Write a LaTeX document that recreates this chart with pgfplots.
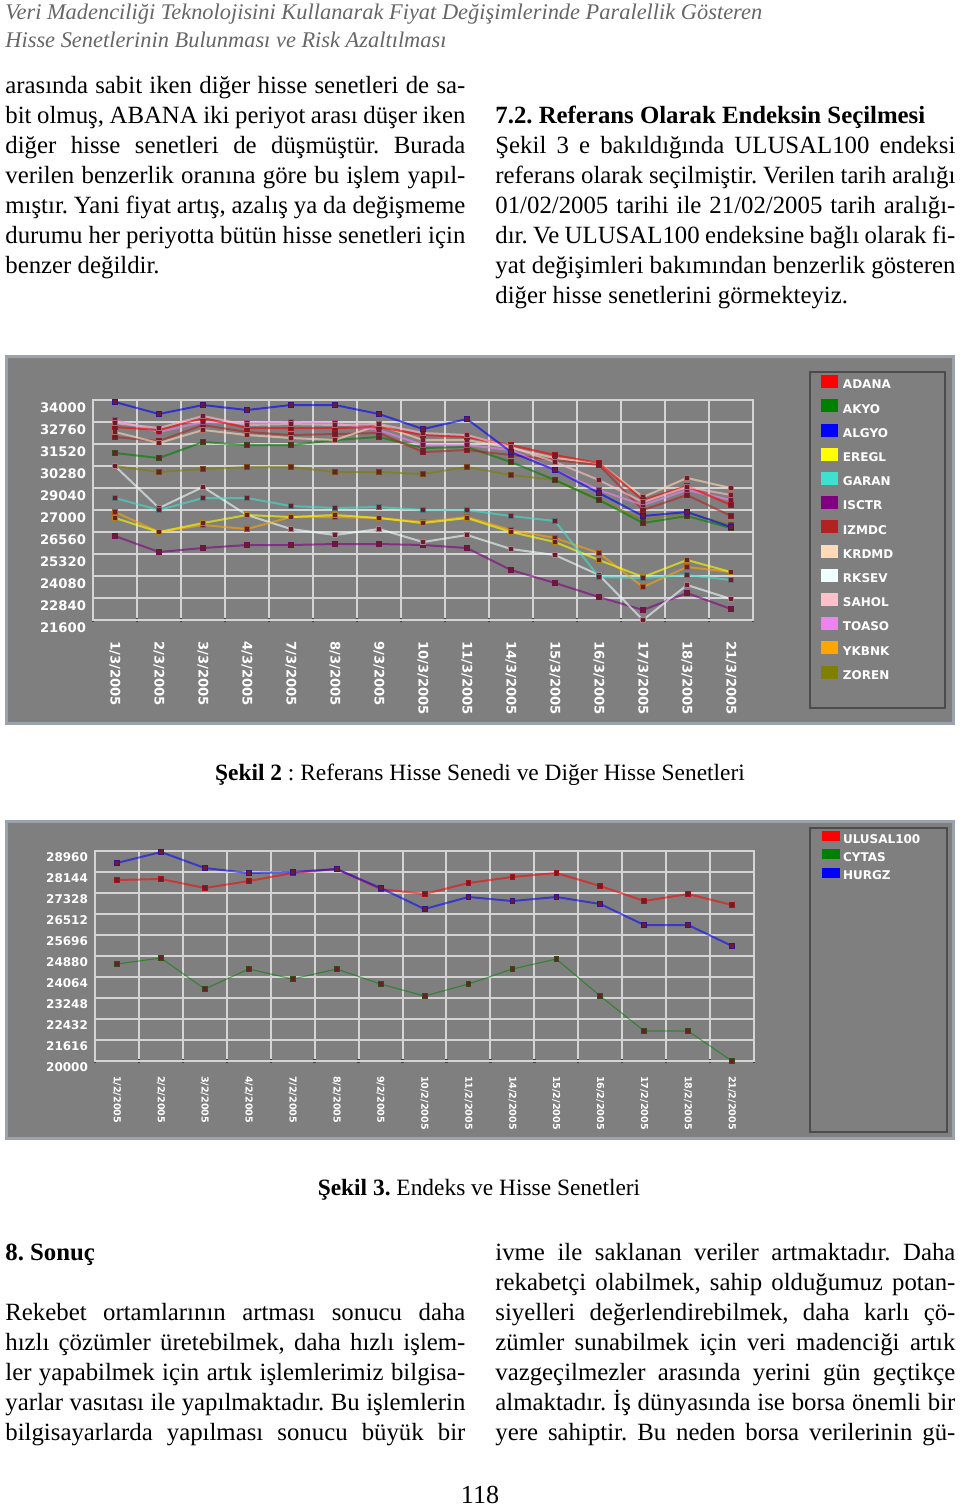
\documentclass[border=0pt]{standalone}
\usepackage{pgfplots}
\usepackage{pgfplotstable}
\pgfplotsset{compat=1.18}
\usepackage{fontspec}
\setmainfont{Liberation Serif}
\newfontfamily\chartfont{DejaVu Sans}
\newcommand{\cf}[1]{\chartfont\bfseries\fontsize{#1}{#1}\selectfont}
\newcommand{\bodyf}{\fontsize{12.4pt}{15pt}\selectfont}
\newcommand{\J}[1]{\makebox[230pt][s]{#1}}
\frenchspacing

\definecolor{panel}{HTML}{7F7F7F}
\definecolor{framec}{HTML}{9AA3AC}
\definecolor{gridc}{HTML}{D4D4D4}
\definecolor{mk}{HTML}{6A1E2C}
\definecolor{cADANA}{HTML}{FF0000}
\definecolor{cAKYO}{HTML}{008000}
\definecolor{cALGYO}{HTML}{0000FF}
\definecolor{cEREGL}{HTML}{FFFF00}
\definecolor{cGARAN}{HTML}{40E0D0}
\definecolor{cISCTR}{HTML}{800080}
\definecolor{cIZMDC}{HTML}{B22222}
\definecolor{cKRDMD}{HTML}{FFDAB9}
\definecolor{cRKSEV}{HTML}{F0FFFF}
\definecolor{cSAHOL}{HTML}{FFC0CB}
\definecolor{cTOASO}{HTML}{EE82EE}
\definecolor{cYKBNK}{HTML}{FFA500}
\definecolor{cZOREN}{HTML}{808000}

\pgfplotstableread{
x ADANA AKYO ALGYO EREGL GARAN ISCTR IZMDC KRDMD RKSEV SAHOL TOASO YKBNK ZOREN
1 32477 31012 33886 27349 28476 26334 31914 32196 30279 32703 32872 27687 30279
2 32308 30730 33210 26560 27800 25432 31688 31576 27912 32421 32196 26560 29941
3 32985 31632 33717 27067 28476 25658 32590 32308 29096 33097 32759 26954 30110
4 32421 31463 33436 27518 28476 25827 32196 32027 27518 32590 32703 26729 30223
5 32421 31463 33717 27405 28025 25827 32027 31858 26729 32647 32759 27405 30223
6 32421 31745 33717 27518 27912 25883 32083 31745 26391 32590 32703 27405 29941
7 32477 31914 33210 27349 27969 25883 32139 32590 26729 32647 32308 27349 29941
8 32027 31294 32365 27067 27800 25827 31068 31745 25996 32139 31463 27124 29829
9 31914 31350 32928 27349 27800 25658 31181 31745 26391 32027 31463 27405 30223
10 31463 30505 31068 26560 27461 24418 30899 31294 25602 31350 31181 26672 29772
11 30899 29490 30054 25996 27180 23685 30618 30730 25263 30505 30054 26222 29490
12 30449 28363 28758 24982 24023 22896 30336 30449 24136 29490 28927 25376 28363
13 28363 27067 27461 24023 23967 22164 27800 28532 21600 28250 28081 23460 27236
14 29152 27461 27687 24982 24136 23122 28645 29603 23573 29096 28927 24587 27631
15 28081 26785 26841 24305 23854 22220 27461 29040 22784 28645 28363 24305 26954
}\tA

\pgfplotstableread{
x ULUSAL CYTAS HURGZ
1 27833 24569 28494
2 27872 24802 28921
3 27522 23598 28299
4 27794 24375 28105
5 28105 23986 28144
6 28261 24375 28261
7 27483 23792 27522
8 27289 23326 26706
9 27717 23792 27173
10 27950 24375 27017
11 28105 24763 27173
12 27600 23326 26901
13 27017 21966 26085
14 27289 21966 26085
15 26862 20800 25269
}\tB

\pgfplotsset{
  ser/.style={draw=#1, draw opacity=0.6, line width=1pt, mark=square*, mark size=1.3pt,
    mark options={solid, fill=mk, draw=#1!45!mk, draw opacity=1, line width=0.4pt}},
  serb/.style 2 args={draw=#1, draw opacity=0.55, line width=#2, mark=square*, mark size=1.2pt,
    mark options={solid, fill=mk, draw=#1!45!mk, draw opacity=1, line width=0.4pt}},
  chartax/.style={
    scale only axis, xmin=0.5, xmax=15.5,
    scaled y ticks=false, scaled x ticks=false,
    xtick={1,...,15}, minor xtick={0.5,1.5,...,15.5},
    xmajorgrids=false, xminorgrids=true, ymajorgrids=true,
    grid style={draw=gridc, line width=1pt},
    minor grid style={draw=gridc, line width=1pt},
    axis line style={draw=gridc, line width=1pt},
    major tick length=0pt, minor tick length=2pt, tick align=center,
    minor tick style={draw=black!75, line width=1.2pt},
    xtick pos=bottom, ytick pos=left,
    legend cell align=left,
  },
}

\begin{document}
\begin{tikzpicture}
\begin{scope}[x=0.5pt,y=-0.5pt]
\useasboundingbox (0,0) rectangle (960,1510);
% header
\node[anchor=base west, inner sep=0, text=black!60] at (5,19) {\itshape\fontsize{11.2pt}{13pt}\selectfont Veri Madenciliği Teknolojisini Kullanarak Fiyat Değişimlerinde Paralellik Gösteren};
\node[anchor=base west, inner sep=0, text=black!60] at (5,47) {\itshape\fontsize{11.2pt}{13pt}\selectfont Hisse Senetlerinin Bulunması ve Risk Azaltılması};
% left column top
\node[anchor=base west, inner sep=0] at (5,93) {\bodyf\J{arasında sabit iken diğer hisse senetleri de sa-}};
\node[anchor=base west, inner sep=0] at (5,123) {\bodyf\J{bit olmuş, ABANA iki periyot arası düşer iken}};
\node[anchor=base west, inner sep=0] at (5,153) {\bodyf\J{diğer hisse senetleri de düşmüştür. Burada}};
\node[anchor=base west, inner sep=0] at (5,183) {\bodyf\J{verilen benzerlik oranına göre bu işlem yapıl-}};
\node[anchor=base west, inner sep=0] at (5,213) {\bodyf\J{mıştır. Yani fiyat artış, azalış ya da değişmeme}};
\node[anchor=base west, inner sep=0] at (5,243) {\bodyf\J{durumu her periyotta bütün hisse senetleri için}};
\node[anchor=base west, inner sep=0] at (5,273) {\bodyf benzer değildir.};
% right column top
\node[anchor=base west, inner sep=0] at (495,123) {\bodyf\bfseries 7.2. Referans Olarak Endeksin Seçilmesi};
\node[anchor=base west, inner sep=0] at (495,153) {\bodyf\J{Şekil 3 e bakıldığında ULUSAL100 endeksi}};
\node[anchor=base west, inner sep=0] at (495,183) {\bodyf\J{referans olarak seçilmiştir. Verilen tarih aralığı}};
\node[anchor=base west, inner sep=0] at (495,213) {\bodyf\J{01/02/2005 tarihi ile 21/02/2005 tarih aralığı-}};
\node[anchor=base west, inner sep=0] at (495,243) {\bodyf\J{dır. Ve ULUSAL100 endeksine bağlı olarak fi-}};
\node[anchor=base west, inner sep=0] at (495,273) {\bodyf\J{yat değişimleri bakımından benzerlik gösteren}};
\node[anchor=base west, inner sep=0] at (495,303) {\bodyf diğer hisse senetlerini görmekteyiz.};
% panels
\fill[framec] (5,355) rectangle (955,725);
\fill[panel] (8,358) rectangle (952,722);
\fill[framec] (5,820) rectangle (955,1140);
\fill[panel] (8,823) rectangle (952,1137);
% captions
\node[anchor=base, inner sep=0] at (480,780) {\fontsize{11.7pt}{14pt}\selectfont\textbf{Şekil 2} : Referans Hisse Senedi ve Diğer Hisse Senetleri};
\node[anchor=base, inner sep=0] at (479,1195) {\fontsize{11.7pt}{14pt}\selectfont\textbf{Şekil 3.} Endeks ve Hisse Senetleri};
% bottom left
\node[anchor=base west, inner sep=0] at (5,1260) {\bodyf\bfseries 8. Sonuç};
\node[anchor=base west, inner sep=0] at (5,1320) {\bodyf\J{Rekebet ortamlarının artması sonucu daha}};
\node[anchor=base west, inner sep=0] at (5,1350) {\bodyf\J{hızlı çözümler üretebilmek, daha hızlı işlem-}};
\node[anchor=base west, inner sep=0] at (5,1380) {\bodyf\J{ler yapabilmek için artık işlemlerimiz bilgisa-}};
\node[anchor=base west, inner sep=0] at (5,1410) {\bodyf\J{yarlar vasıtası ile yapılmaktadır. Bu işlemlerin}};
\node[anchor=base west, inner sep=0] at (5,1440) {\bodyf\J{bilgisayarlarda yapılması sonucu büyük bir}};
% bottom right
\node[anchor=base west, inner sep=0] at (495,1260) {\bodyf\J{ivme ile saklanan veriler artmaktadır. Daha}};
\node[anchor=base west, inner sep=0] at (495,1290) {\bodyf\J{rekabetçi olabilmek, sahip olduğumuz potan-}};
\node[anchor=base west, inner sep=0] at (495,1320) {\bodyf\J{siyelleri değerlendirebilmek, daha karlı çö-}};
\node[anchor=base west, inner sep=0] at (495,1350) {\bodyf\J{zümler sunabilmek için veri madenciği artık}};
\node[anchor=base west, inner sep=0] at (495,1380) {\bodyf\J{vazgeçilmezler arasında yerini gün geçtikçe}};
\node[anchor=base west, inner sep=0] at (495,1410) {\bodyf\J{almaktadır. İş dünyasında ise borsa önemli bir}};
\node[anchor=base west, inner sep=0] at (495,1440) {\bodyf\J{yere sahiptir. Bu neden borsa verilerinin gü-}};
% page number
\node[anchor=base, inner sep=0] at (480,1503) {\fontsize{13pt}{15pt}\selectfont 118};
\end{scope}

% ---------- Chart 1 ----------
\begin{axis}[chartax,
  at={(46.5pt,-310pt)}, anchor=south west,
  width=330pt, height=110pt,
  ymin=21600, ymax=34000,
  ytick={34000,32760,31520,30280,29040,27800,26560,25320,24080,22840,21600},
  yticklabels={34000,32760,31520,30280,29040,27000,26560,25320,24080,22840,21600},
  xticklabels={1/3/2005,2/3/2005,3/3/2005,4/3/2005,7/3/2005,8/3/2005,9/3/2005,10/3/2005,11/3/2005,14/3/2005,15/3/2005,16/3/2005,17/3/2005,18/3/2005,21/3/2005},
  yticklabel style={font=\cf{6.6pt}, text=white, yshift=-4pt},
  xticklabel style={font=\cf{6.6pt}, text=white, yshift=-7pt, rotate=-90, anchor=west},
  legend image code/.code={\fill[#1] (0pt,-1.05pt) rectangle (8.5pt,5.45pt);},
  legend style={at={(axis description cs:1.103,1.1186)}, anchor=north west, draw=none, fill=none,
    inner sep=0pt, outer sep=0pt, font=\cf{6pt}, text=white, row sep=0pt, column sep=2.5pt,
    nodes={inner sep=0pt, minimum height=12.1pt, text=white}},
]
\addlegendimage{fill=cADANA, draw=none}
\addlegendimage{fill=cAKYO, draw=none}
\addlegendimage{fill=cALGYO, draw=none}
\addlegendimage{fill=cEREGL, draw=none}
\addlegendimage{fill=cGARAN, draw=none}
\addlegendimage{fill=cISCTR, draw=none}
\addlegendimage{fill=cIZMDC, draw=none}
\addlegendimage{fill=cKRDMD, draw=none}
\addlegendimage{fill=cRKSEV, draw=none}
\addlegendimage{fill=cSAHOL, draw=none}
\addlegendimage{fill=cTOASO, draw=none}
\addlegendimage{fill=cYKBNK, draw=none}
\addlegendimage{fill=cZOREN, draw=none}
\addplot[ser=cZOREN, forget plot] table[x=x, y=ZOREN] {\tA};
\addplot[ser=cISCTR, forget plot] table[x=x, y=ISCTR] {\tA};
\addplot[ser=cRKSEV, forget plot] table[x=x, y=RKSEV] {\tA};
\addplot[ser=cYKBNK, forget plot] table[x=x, y=YKBNK] {\tA};
\addplot[ser=cEREGL, forget plot] table[x=x, y=EREGL] {\tA};
\addplot[ser=cGARAN, forget plot] table[x=x, y=GARAN] {\tA};
\addplot[ser=cAKYO, forget plot] table[x=x, y=AKYO] {\tA};
\addplot[ser=cIZMDC, forget plot] table[x=x, y=IZMDC] {\tA};
\addplot[ser=cKRDMD, forget plot] table[x=x, y=KRDMD] {\tA};
\addplot[ser=cTOASO, forget plot] table[x=x, y=TOASO] {\tA};
\addplot[ser=cADANA, forget plot] table[x=x, y=ADANA] {\tA};
\addplot[ser=cSAHOL, forget plot] table[x=x, y=SAHOL] {\tA};
\addplot[ser=cALGYO, forget plot] table[x=x, y=ALGYO] {\tA};
\legend{ADANA,AKYO,ALGYO,EREGL,GARAN,ISCTR,IZMDC,KRDMD,RKSEV,SAHOL,TOASO,YKBNK,ZOREN}
\end{axis}

% ---------- Chart 2 ----------
\begin{axis}[chartax,
  at={(47.5pt,-530.5pt)}, anchor=south west,
  width=329.5pt, height=105pt,
  ymin=20800, ymax=28960,
  ytick={28960,28144,27328,26512,25696,24880,24064,23248,22432,21616,20800},
  yticklabels={28960,28144,27328,26512,25696,24880,24064,23248,22432,21616,20000},
  xticklabels={1/2/2005,2/2/2005,3/2/2005,4/2/2005,7/2/2005,8/2/2005,9/2/2005,10/2/2005,11/2/2005,14/2/2005,15/2/2005,16/2/2005,17/2/2005,18/2/2005,21/2/2005},
  yticklabel style={font=\cf{6pt}, text=white, yshift=-3pt},
  xticklabel style={font=\cf{4.8pt}, text=white, yshift=-4pt, rotate=-90, anchor=west},
  legend image code/.code={\fill[#1] (0pt,-0.3pt) rectangle (9pt,4.7pt);},
  legend style={at={(axis description cs:1.1032,1.094)}, anchor=north west, draw=none, fill=none,
    inner sep=0pt, outer sep=0pt, font=\cf{6pt}, text=white, row sep=0pt, column sep=1.5pt,
    nodes={inner sep=0pt, minimum height=8.75pt, text=white}},
]
\addlegendimage{fill=cADANA, draw=none}
\addlegendimage{fill=cAKYO, draw=none}
\addlegendimage{fill=cALGYO, draw=none}
\addplot[serb={cAKYO}{0.6pt}, forget plot] table[x=x, y=CYTAS] {\tB};
\addplot[serb={cADANA}{1pt}, forget plot] table[x=x, y=ULUSAL] {\tB};
\addplot[serb={cALGYO}{1pt}, forget plot] table[x=x, y=HURGZ] {\tB};
\legend{ULUSAL100,CYTAS,HURGZ}
\end{axis}

\begin{scope}[x=0.5pt,y=-0.5pt]
\draw[black!70, line width=0.6pt] (810,372) rectangle (945,708);
\draw[black!70, line width=0.6pt] (810,828) rectangle (947,1132);
\end{scope}
\end{tikzpicture}
\end{document}
